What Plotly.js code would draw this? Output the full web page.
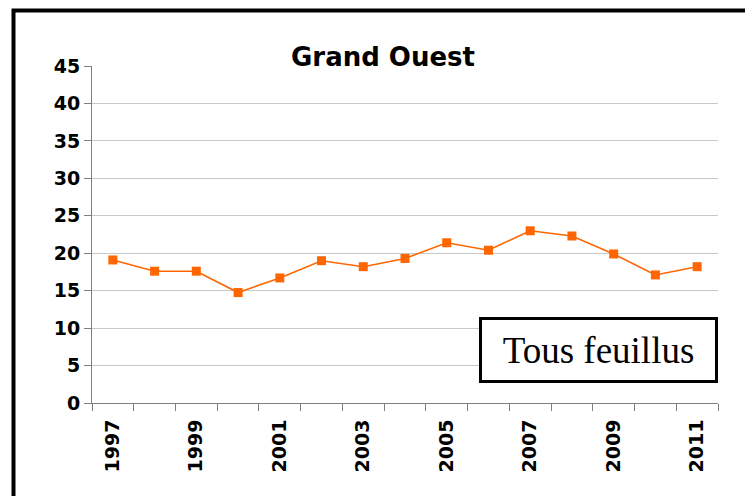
<!DOCTYPE html>
<html>
<head>
<meta charset="utf-8">
<script src="https://cdn.plot.ly/plotly-3.0.1.min.js"></script>
<style>
  html, body { margin: 0; padding: 0; background: #fff; }
  #chart { width: 745px; height: 496px; }
</style>
</head>
<body>
<div id="chart"></div>
<script>
// Grand Ouest - Tous feuillus
const years = ['1997', '1998', '1999', '2000', '2001', '2002', '2003', '2004',
               '2005', '2006', '2007', '2008', '2009', '2010', '2011'];
const values = [19.1, 17.6, 17.6, 14.75, 16.7, 19.0, 18.2, 19.3,
                21.4, 20.4, 23.0, 22.3, 19.9, 17.1, 18.2];
const yearLabels = ['1997', '', '1999', '', '2001', '', '2003', '',
                    '2005', '', '2007', '', '2009', '', '2011'];

const trace = {
    x: years,
    y: values,
    type: 'scatter',
    mode: 'lines+markers',
    line: { color: '#ff6600', width: 1.6 },
    marker: { symbol: 'square', size: 9, color: '#ff6600' },
    hoverinfo: 'x+y'
};

const tickFont = { family: 'DejaVu Sans', size: 19, color: '#000', weight: 'bold' };

const layout = {
    width: 745,
    height: 496,
    margin: { l: 92, r: 27, t: 66, b: 93 },
    paper_bgcolor: '#fff',
    plot_bgcolor: '#fff',
    showlegend: false,
    title: {
        text: '<b>Grand Ouest</b>',
        font: { family: 'DejaVu Sans', size: 26, color: '#000' },
        xref: 'container', x: 383 / 745, xanchor: 'center',
        yref: 'container', y: 1 - 57 / 496, yanchor: 'middle'
    },
    xaxis: {
        type: 'category',
        range: [-0.5, 14.5],
        tickmode: 'array',
        tickvals: years,
        ticktext: yearLabels,
        tickson: 'boundaries',
        ticks: 'outside',
        ticklen: 7,
        tickcolor: '#808080',
        tickangle: -90,
        ticklabelstandoff: 8,
        tickfont: tickFont,
        showline: true,
        linecolor: '#808080',
        linewidth: 1,
        showgrid: false,
        zeroline: false
    },
    yaxis: {
        range: [0, 45],
        dtick: 5,
        ticks: 'outside',
        ticklen: 7,
        tickcolor: '#808080',
        tickfont: tickFont,
        showline: true,
        linecolor: '#808080',
        linewidth: 1,
        showgrid: true,
        gridcolor: '#c8c8c8',
        gridwidth: 1,
        zeroline: false
    },
    shapes: [{
        type: 'rect',
        xref: 'paper', yref: 'paper',
        x0: (13.5 - 92) / 626, x1: (760 - 92) / 626,
        y0: (403 - 520) / 337, y1: (403 - 10.5) / 337,
        line: { color: '#000', width: 4 },
        fillcolor: 'rgba(0,0,0,0)',
        layer: 'above'
    }],
    annotations: [{
        text: 'Tous feuillus',
        xref: 'paper', yref: 'paper',
        x: 1, xanchor: 'right',
        y: (403 - 383) / 337, yanchor: 'bottom',
        showarrow: false,
        font: { family: 'Liberation Serif', size: 37, color: '#000' },
        bgcolor: '#fff',
        bordercolor: '#000',
        borderwidth: 3,
        borderpad: 0,
        width: 233,
        height: 60
    }]
};

Plotly.newPlot('chart', [trace], layout, { displayModeBar: false, staticPlot: true });
</script>
</body>
</html>
